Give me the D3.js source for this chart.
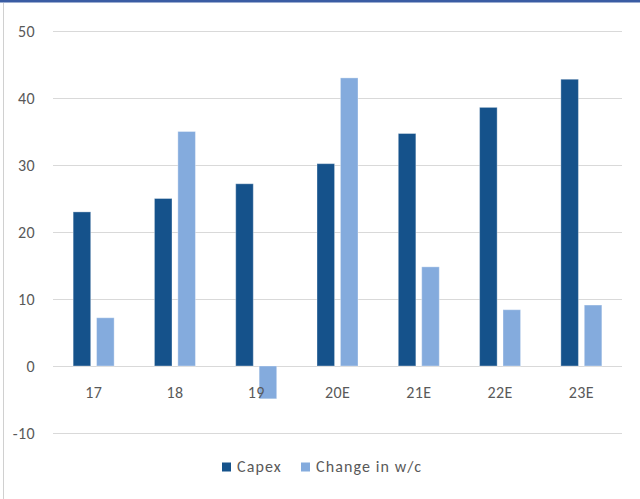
<!DOCTYPE html>
<html>
<head>
<meta charset="utf-8">
<script src="https://cdn.jsdelivr.net/npm/d3@7"></script>
<style>
  html, body { margin: 0; padding: 0; background: #fff; }
  svg { display: block; }
</style>
</head>
<body>
<svg id="chart" width="640" height="499"></svg>
<script>
// Capex vs change in working capital, actuals and estimates
const categories = ["17", "18", "19", "20E", "21E", "22E", "23E"];
const capex = [23, 25, 27.2, 30.2, 34.7, 38.6, 42.8];
const changeWC = [7.2, 35, -4.9, 43, 14.8, 8.4, 9.1];
const seriesNames = ["Capex", "Change in w/c"];
const yTicks = [-10, 0, 10, 20, 30, 40, 50];

const colors = ["#15528B", "#84ABDD"];
const font = "Calibri, Carlito, 'Open Sans', sans-serif";
const textColor = "#595959";
const fontSize = 16;

const svg = d3.select("#chart");
const W = 640, H = 499;

// frame: dark top rule and light left edge
svg.append("rect").attr("x", 0).attr("y", 0).attr("width", W).attr("height", 2.5).attr("fill", "#3A5CA3");
svg.append("line").attr("x1", 3.5).attr("x2", 3.5).attr("y1", 3).attr("y2", H)
  .attr("stroke", "#D0D0D0").attr("stroke-width", 1);

const plot = { left: 53, right: 622 };

const y = d3.scaleLinear().domain([-10, 50]).range([433, 31]);
const x0 = d3.scaleBand().domain(categories).range([plot.left, plot.right]).paddingInner(0).paddingOuter(0);
const x1 = d3.scaleBand().domain(seriesNames).range([x0.bandwidth() / 2 - 20.5, x0.bandwidth() / 2 + 20.5]).paddingInner(0.25);

// horizontal gridlines, labels with a plain hyphen for negatives
const yAxis = d3.axisLeft(y).tickValues(yTicks).tickFormat(d => String(d))
  .tickSize(-(plot.right - plot.left)).tickPadding(18);
const gy = svg.append("g").attr("transform", `translate(${plot.left},0)`).call(yAxis);
gy.select(".domain").remove();
gy.selectAll(".tick line").attr("stroke", "#D9D9D9").attr("stroke-width", 1)
  .attr("shape-rendering", "crispEdges");
gy.selectAll(".tick text").attr("fill", textColor).attr("font-size", fontSize).attr("font-family", font)
  .attr("letter-spacing", 0.4);

// bars
const groups = svg.append("g").selectAll("g")
  .data(categories.map((c, i) => ({ c, vals: [capex[i], changeWC[i]] })))
  .join("g")
  .attr("transform", d => `translate(${x0(d.c)},0)`);

groups.selectAll("rect")
  .data(d => d.vals.map((v, k) => ({ v, k })))
  .join("rect")
  .attr("x", d => x1(seriesNames[d.k]))
  .attr("width", x1.bandwidth())
  .attr("y", d => y(Math.max(0, d.v)))
  .attr("height", d => Math.abs(y(d.v) - y(0)))
  .attr("fill", d => colors[d.k])
  .attr("stroke", "rgba(255,255,255,0.35)")
  .attr("stroke-width", 1);

// category labels below the zero line
const xAxis = d3.axisBottom(x0).tickSize(0).tickPadding(0);
const gx = svg.append("g").attr("transform", `translate(0,${y(0)})`).call(xAxis);
gx.select(".domain").remove();
gx.selectAll(".tick text").attr("fill", textColor).attr("font-size", fontSize).attr("font-family", font)
  .attr("letter-spacing", 0.4).attr("dy", null).attr("y", 31.5);

// legend
const legend = svg.append("g").attr("transform", "translate(222,467)");
const legendX = [0, 79];
seriesNames.forEach((name, k) => {
  const g = legend.append("g").attr("transform", `translate(${legendX[k]},0)`);
  g.append("rect").attr("x", 0).attr("y", -4.5).attr("width", 9).attr("height", 9).attr("fill", colors[k]);
  g.append("text").attr("x", 15).attr("y", 5.3)
    .attr("fill", textColor).attr("font-size", fontSize).attr("font-family", font)
    .attr("letter-spacing", 1.1).text(name);
});
</script>
</body>
</html>
